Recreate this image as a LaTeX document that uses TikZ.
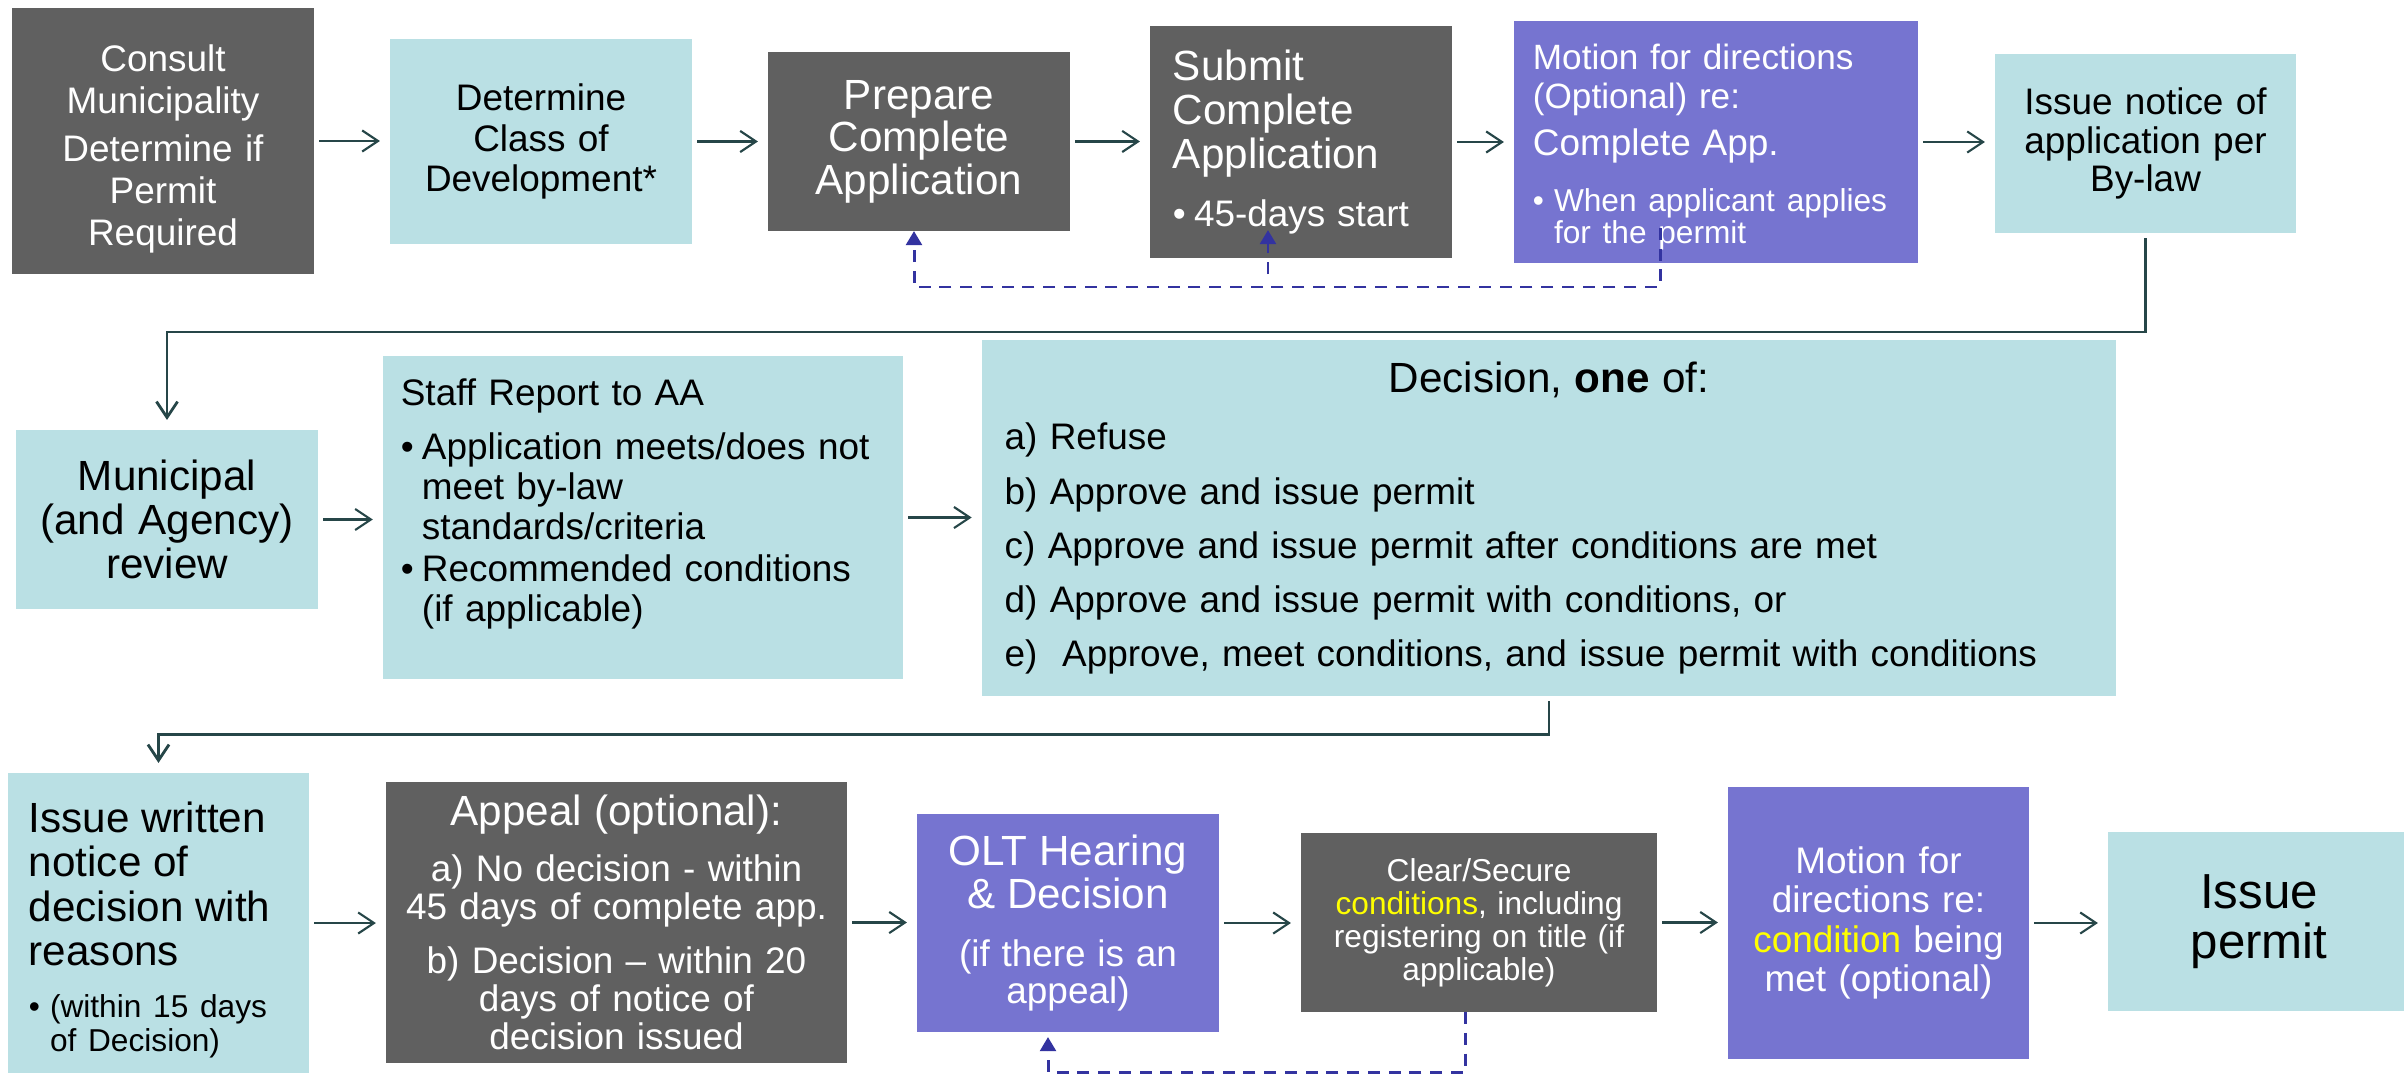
\documentclass[tikz,border=0pt]{standalone}
\usepackage{fontspec}
\setmainfont{Liberation Sans}
\usetikzlibrary{arrows.meta}
\definecolor{boxgrey}{RGB}{96,96,96}
\definecolor{boxteal}{RGB}{186,224,228}
\definecolor{boxpurple}{RGB}{118,116,208}
\definecolor{linecol}{RGB}{38,70,72}
\definecolor{dashblue}{RGB}{51,51,160}
\definecolor{condyellow}{RGB}{255,255,0}
\setlength{\parindent}{0pt}
\newcommand{\fsz}[2]{\fontsize{#1}{#2}\selectfont}
\newcommand{\bulletmark}{\makebox[6pt][l]{\textbullet}}
\newcommand{\bulletpad}{\hspace*{6pt}}

\begin{document}
\begin{tikzpicture}[x=0.01cm,y=-0.01cm,line join=miter,
  box/.style={inner sep=0pt,outer sep=0pt,align=center},
  greybox/.style={box,fill=boxgrey,text=white},
  tealbox/.style={box,fill=boxteal,text=black},
  purplebox/.style={box,fill=boxpurple,text=white},
  flow/.style={draw=linecol,line width=0.6pt,-{Straight Barb[length=4.5pt,width=6pt]},shorten <=0.05cm,shorten >=0.1cm},
  dashflow/.style={draw=dashblue,line width=0.85pt,dash pattern=on 3.4pt off 2.5pt,-{Triangle[length=4pt,width=4.5pt]}}]
\fill[white] (0,0) rectangle (2404,1073);
\useasboundingbox (0,0) rectangle (2404,1073);

% first row
\node[greybox,minimum width=3.02cm,minimum height=2.66cm,text width=2.9cm,font=\fsz{10.5}{12}] (consult) at (163,141)
  {Consult\rule{0pt}{12pt}\\Municipality\\[1.6pt]Determine if\\Permit\\Required};
\node[tealbox,minimum width=3.02cm,minimum height=2.05cm,text width=2.9cm,font=\fsz{10.5}{11.4}] (classdev) at (541,141.5)
  {Determine\\Class of\\Development*};
\node[greybox,minimum width=3.02cm,minimum height=1.79cm,text width=2.9cm,font=\fsz{12}{12.1}] (prepare) at (919,141.5)
  {Prepare\\Complete\\Application};
\node[greybox,align=left,minimum width=3.02cm,minimum height=2.32cm,text width=2.56cm] (submit) at (1301,142)
  {{\fsz{12}{12.5}Submit\\Complete\\Application\par}\vspace{4.5pt}{\fsz{10.5}{12}\bulletmark 45-days start\par}};
\node[purplebox,align=left,minimum width=4.04cm,minimum height=2.42cm,text width=3.66cm] (motion1) at (1716,142)
  {{\fsz{10}{11.1}Motion for directions\rule{0pt}{10pt}\\(Optional) re:\par}{\fsz{10.5}{13.4}Complete App.\par}\vspace{7pt}{\fsz{9}{9}\bulletmark When applicant applies\\\bulletpad for the permit\par}};
\node[tealbox,minimum width=3.01cm,minimum height=1.79cm,text width=2.9cm,font=\fsz{10.5}{11}] (notice) at (2145.5,143.5)
  {Issue notice of\\application per\\By-law};

% second row
\node[tealbox,minimum width=3.02cm,minimum height=1.79cm,text width=2.9cm,font=\fsz{12}{12.6}] (review) at (167,519.5)
  {Municipal\\(and Agency)\\review};
\node[tealbox,align=left,minimum width=5.2cm,minimum height=3.23cm,text width=4.84cm,font=\fsz{10.5}{11.4}] (staff) at (643,517.5)
  {Staff Report to AA\\[4pt]\bulletmark Application meets/does not\\\bulletpad meet by-law\\\bulletpad standards/criteria\\[0.5pt]\bulletmark Recommended conditions\\\bulletpad (if applicable)\rule[-10pt]{0pt}{10pt}};
\node[tealbox,align=left,minimum width=11.34cm,minimum height=3.56cm,text width=10.88cm,font=\fsz{10.5}{15.4}] (decision) at (1549,518)
  {\makebox[10.88cm][c]{\fsz{12}{15.4}Decision, \textbf{one} of:}\\[1pt]
   a) Refuse\\
   b) Approve and issue permit\\
   c) Approve and issue permit after conditions are met\\
   d) Approve and issue permit with conditions, or\\
   e)\ \ Approve, meet conditions, and issue permit with conditions};

% third row
\node[tealbox,align=left,minimum width=3.01cm,minimum height=3cm,text width=2.59cm] (written) at (158.5,923)
  {{\fsz{12}{12.6}Issue written\rule{0pt}{12.6pt}\\notice of\\decision with\\reasons\par}\vspace{5pt}{\fsz{9}{9.7}\bulletmark(within 15 days\\\bulletpad of Decision)\par}};
\node[greybox,minimum width=4.61cm,minimum height=2.81cm,text width=4.4cm,font=\fsz{10.5}{10.8}] (appeal) at (616.5,922.5)
  {{\fsz{12}{12}Appeal (optional):}\\[5.2pt]a) No decision - within\\45 days of complete app.\\[4.6pt]b) Decision – within 20\\days of notice of\\decision issued};
\node[purplebox,minimum width=3.02cm,minimum height=2.18cm,text width=2.9cm] (olt) at (1068,923)
  {{\fsz{12}{12.3}OLT Hearing\\\& Decision\par}\vspace{6pt}{\fsz{10.5}{10.5}(if there is an\\appeal)\par}};
\node[greybox,minimum width=3.56cm,minimum height=1.79cm,text width=3.4cm,font=\fsz{9}{9.4}] (clear) at (1479,922.5)
  {Clear/Secure\\\textcolor{condyellow}{conditions}, including\\registering on title (if\\applicable)};
\node[purplebox,minimum width=3.01cm,minimum height=2.72cm,text width=2.9cm,font=\fsz{10.5}{11.2}] (motion2) at (1878.5,923)
  {Motion for\\directions re:\\\textcolor{condyellow}{condition} being\\met (optional)};
\node[tealbox,minimum width=3.02cm,minimum height=1.79cm,text width=2.9cm,font=\fsz{14}{14.2}] (permit) at (2259,921.5)
  {Issue\\permit};

% arrows along each row
\foreach \a/\b in {consult/classdev,classdev/prepare,prepare/submit,submit/motion1,motion1/notice,
                   review/staff,staff/decision,
                   written/appeal,appeal/olt,olt/clear,clear/motion2,motion2/permit}
  {\draw[flow] (\a.east) -- (\a.east -| \b.west);}

% turns to the next row
\draw[flow,line width=0.8pt] (notice.south) -- ++(0,99) -| (review.north);
\draw[flow,line width=0.8pt] (decision.south) -- ++(0,38) -| (written.north);

% dashed returns
\coordinate (dashstart) at (1660,228);
\draw[dashflow] (dashstart) -- (1660,287) -| ([xshift=-0.05cm]prepare.south);
\draw[dashflow] ([xshift=-0.33cm,yshift=-0.16cm]submit.south) -- ([xshift=-0.33cm,yshift=0.28cm]submit.south);
\draw[dashflow] ([xshift=-0.14cm]clear.south) -- ++(0,60) -| ([xshift=-0.2cm,yshift=-0.05cm]olt.south);
\end{tikzpicture}
\end{document}
